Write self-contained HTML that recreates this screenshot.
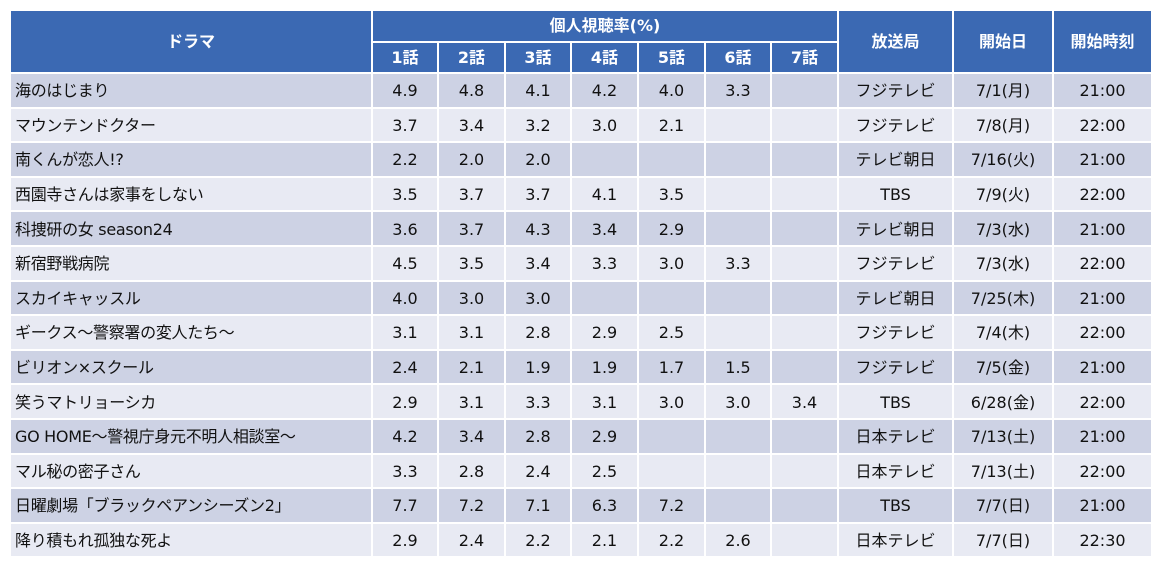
<!DOCTYPE html>
<html><head><meta charset="utf-8"><style>
body{margin:0;background:#fff;width:1163px;height:568px;overflow:hidden;font-family:"DejaVu Sans","Noto Sans CJK JP",sans-serif;}
table{position:absolute;left:9px;top:9px;border-collapse:separate;border-spacing:2px;table-layout:fixed;}
td,th{padding:0;text-align:center;font-size:16px;color:#111;line-height:18px;white-space:nowrap;overflow:hidden}
th{background:#3b69b3;color:#fff;font-weight:bold;font-size:16px;font-family:"DejaVu Sans","Noto Sans CJK JP",sans-serif;}
tr.h1 th{height:30px}
tr.h2 th{height:29px}
tbody td{height:32.6px;padding-top:2px;box-sizing:border-box}
tbody tr:nth-child(odd) td{background:#cdd2e4}
tbody tr:nth-child(even) td{background:#e8eaf3}
td.n{text-align:left;padding-left:4px;font-size:16px;letter-spacing:-0.3px}
</style></head><body>
<table>
<colgroup><col style="width:360px"><col style="width:64px"><col style="width:65px"><col style="width:64px"><col style="width:65px"><col style="width:65px"><col style="width:64px"><col style="width:65px"><col style="width:113px"><col style="width:98px"><col style="width:97px"></colgroup>
<thead>
<tr class="h1"><th rowspan="2">ドラマ</th><th colspan="7">個人視聴率(%)</th><th rowspan="2">放送局</th><th rowspan="2">開始日</th><th rowspan="2">開始時刻</th></tr>
<tr class="h2"><th>1話</th><th>2話</th><th>3話</th><th>4話</th><th>5話</th><th>6話</th><th>7話</th></tr>
</thead>
<tbody>
<tr><td class="n">海のはじまり</td><td>4.9</td><td>4.8</td><td>4.1</td><td>4.2</td><td>4.0</td><td>3.3</td><td></td><td>フジテレビ</td><td>7/1(月)</td><td>21:00</td></tr>
<tr><td class="n">マウンテンドクター</td><td>3.7</td><td>3.4</td><td>3.2</td><td>3.0</td><td>2.1</td><td></td><td></td><td>フジテレビ</td><td>7/8(月)</td><td>22:00</td></tr>
<tr><td class="n">南くんが恋人!?</td><td>2.2</td><td>2.0</td><td>2.0</td><td></td><td></td><td></td><td></td><td>テレビ朝日</td><td>7/16(火)</td><td>21:00</td></tr>
<tr><td class="n">西園寺さんは家事をしない</td><td>3.5</td><td>3.7</td><td>3.7</td><td>4.1</td><td>3.5</td><td></td><td></td><td>TBS</td><td>7/9(火)</td><td>22:00</td></tr>
<tr><td class="n">科捜研の女 season24</td><td>3.6</td><td>3.7</td><td>4.3</td><td>3.4</td><td>2.9</td><td></td><td></td><td>テレビ朝日</td><td>7/3(水)</td><td>21:00</td></tr>
<tr><td class="n">新宿野戦病院</td><td>4.5</td><td>3.5</td><td>3.4</td><td>3.3</td><td>3.0</td><td>3.3</td><td></td><td>フジテレビ</td><td>7/3(水)</td><td>22:00</td></tr>
<tr><td class="n">スカイキャッスル</td><td>4.0</td><td>3.0</td><td>3.0</td><td></td><td></td><td></td><td></td><td>テレビ朝日</td><td>7/25(木)</td><td>21:00</td></tr>
<tr><td class="n">ギークス～警察署の変人たち～</td><td>3.1</td><td>3.1</td><td>2.8</td><td>2.9</td><td>2.5</td><td></td><td></td><td>フジテレビ</td><td>7/4(木)</td><td>22:00</td></tr>
<tr><td class="n">ビリオン×スクール</td><td>2.4</td><td>2.1</td><td>1.9</td><td>1.9</td><td>1.7</td><td>1.5</td><td></td><td>フジテレビ</td><td>7/5(金)</td><td>21:00</td></tr>
<tr><td class="n">笑うマトリョーシカ</td><td>2.9</td><td>3.1</td><td>3.3</td><td>3.1</td><td>3.0</td><td>3.0</td><td>3.4</td><td>TBS</td><td>6/28(金)</td><td>22:00</td></tr>
<tr><td class="n">GO HOME～警視庁身元不明人相談室～</td><td>4.2</td><td>3.4</td><td>2.8</td><td>2.9</td><td></td><td></td><td></td><td>日本テレビ</td><td>7/13(土)</td><td>21:00</td></tr>
<tr><td class="n">マル秘の密子さん</td><td>3.3</td><td>2.8</td><td>2.4</td><td>2.5</td><td></td><td></td><td></td><td>日本テレビ</td><td>7/13(土)</td><td>22:00</td></tr>
<tr><td class="n">日曜劇場「ブラックペアンシーズン2」</td><td>7.7</td><td>7.2</td><td>7.1</td><td>6.3</td><td>7.2</td><td></td><td></td><td>TBS</td><td>7/7(日)</td><td>21:00</td></tr>
<tr><td class="n">降り積もれ孤独な死よ</td><td>2.9</td><td>2.4</td><td>2.2</td><td>2.1</td><td>2.2</td><td>2.6</td><td></td><td>日本テレビ</td><td>7/7(日)</td><td>22:30</td></tr>
</tbody></table>
</body></html>
